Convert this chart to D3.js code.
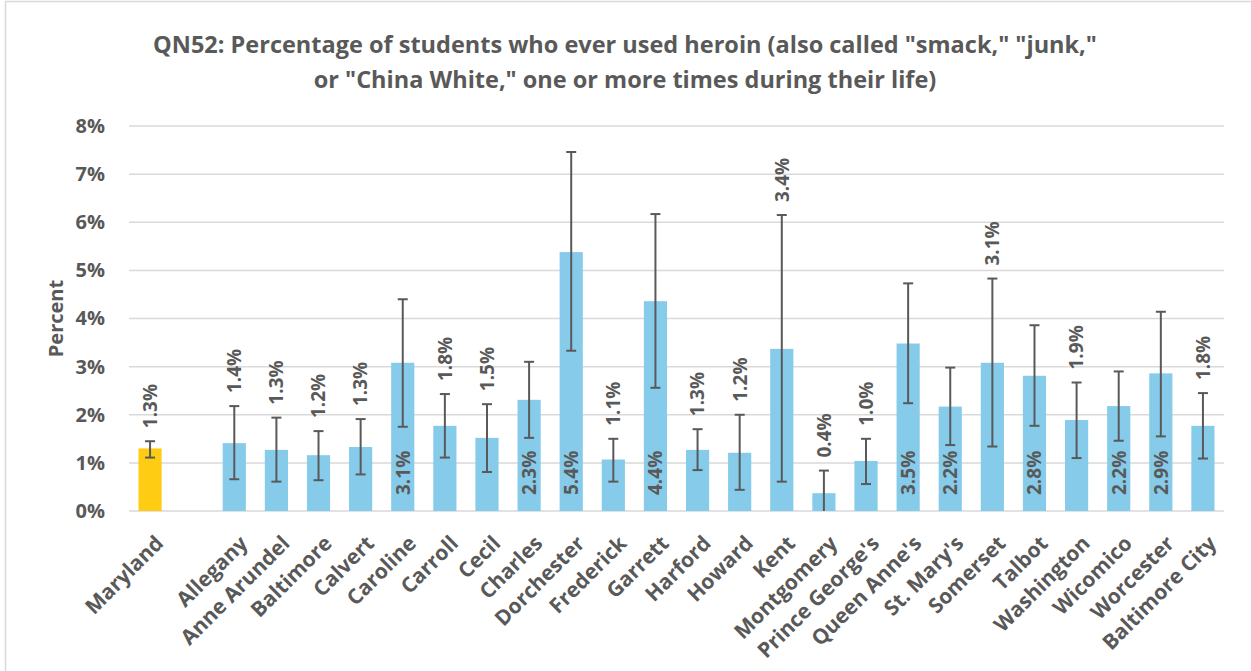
<!DOCTYPE html>
<html>
<head>
<meta charset="utf-8">
<script src="https://cdn.jsdelivr.net/npm/d3@7"></script>
<style>
  body { margin: 0; background: #fff; }
  svg text { font-family: 'Open Sans', sans-serif; font-weight: bold; fill: #595959; }
</style>
</head>
<body>
<svg id="chart" width="1251" height="671"></svg>
<script>
// regions, in the order they appear on the axis
const regions = ['Maryland', 'Allegany', 'Anne Arundel', 'Baltimore', 'Calvert', 'Caroline',
  'Carroll', 'Cecil', 'Charles', 'Dorchester', 'Frederick', 'Garrett', 'Harford', 'Howard',
  'Kent', 'Montgomery', "Prince George's", "Queen Anne's", "St. Mary's", 'Somerset',
  'Talbot', 'Washington', 'Wicomico', 'Worcester', 'Baltimore City'];

// percent of students
const percent = [1.30, 1.41, 1.27, 1.16, 1.33, 3.08, 1.77, 1.52, 2.31, 5.38, 1.07, 4.36,
  1.27, 1.21, 3.37, 0.37, 1.04, 3.48, 2.17, 3.08, 2.81, 1.89, 2.18, 2.86, 1.77];

// 95% confidence interval
const ciLow = [1.11, 0.66, 0.61, 0.64, 0.76, 1.75, 1.11, 0.81, 1.52, 3.33, 0.61, 2.56,
  0.85, 0.44, 0.61, 0.00, 0.56, 2.24, 1.37, 1.34, 1.77, 1.10, 1.46, 1.55, 1.09];
const ciHigh = [1.45, 2.18, 1.94, 1.66, 1.91, 4.40, 2.43, 2.22, 3.10, 7.46, 1.50, 6.17,
  1.70, 2.00, 6.15, 0.84, 1.50, 4.73, 2.98, 4.83, 3.86, 2.67, 2.90, 4.14, 2.45];

// labels that sit inside the bar, at its base
const insideLabels = ['Caroline', 'Charles', 'Dorchester', 'Garrett', "Queen Anne's",
  "St. Mary's", 'Talbot', 'Wicomico', 'Worcester'];

const yTicks = [0, 1, 2, 3, 4, 5, 6, 7, 8];

const titleLines = ['QN52: Percentage of students who ever used heroin (also called "smack," "junk,"',
  'or "China White," one or more times during their life)'];

const stateColor = '#FFCC14';
const countyColor = '#86CBEA';

const svg = d3.select('#chart');

// chart border
svg.append('rect')
    .attr('x', 5.5).attr('y', 1.5)
    .attr('width', 1400).attr('height', 800)
    .attr('fill', 'none')
    .attr('stroke', '#d9d9d9')
    .attr('stroke-width', 1.5);

const plotLeft = 129, plotRight = 1224, plotTop = 126, plotBottom = 511;

// an empty slot between the state and the counties
const slots = [regions[0], '__gap__'].concat(regions.slice(1));

const x = d3.scaleBand()
    .domain(slots)
    .range([plotLeft, plotRight])
    .paddingInner(0.45)
    .paddingOuter(0.225);

const y = d3.scaleLinear()
    .domain([0, 8])
    .range([plotBottom, plotTop]);

const data = regions.map((r, i) => ({
  name: r, value: percent[i], lo: ciLow[i], hi: ciHigh[i], state: i === 0
}));

// title
svg.append('text')
    .attr('x', 625)
    .attr('y', 53)
    .attr('text-anchor', 'middle')
    .style('font-size', '23.5px')
  .selectAll('tspan')
    .data(titleLines)
  .enter().append('tspan')
    .attr('x', 625)
    .attr('dy', (d, i) => i === 0 ? 0 : 35)
    .text(d => d);

// gridlines
svg.append('g')
  .selectAll('line')
    .data(yTicks)
  .enter().append('line')
    .attr('x1', plotLeft).attr('x2', plotRight)
    .attr('y1', d => y(d)).attr('y2', d => y(d))
    .attr('stroke', '#d9d9d9')
    .attr('stroke-width', 1.5);

// y axis labels
const yAxis = svg.append('g')
    .attr('transform', `translate(${plotLeft - 24},0)`)
    .call(d3.axisLeft(y).tickValues(yTicks).tickFormat(d => d + '%').tickSize(0).tickPadding(0));
yAxis.select('.domain').remove();
yAxis.selectAll('text')
    .style('font-size', '20px')
    .attr('fill', '#595959');

svg.append('text')
    .attr('transform', `translate(63,${(plotTop + plotBottom) / 2}) rotate(-90)`)
    .attr('text-anchor', 'middle')
    .style('font-size', '20px')
    .text('Percent');

// bars
svg.append('g')
  .selectAll('rect')
    .data(data)
  .enter().append('rect')
    .attr('x', d => x(d.name))
    .attr('y', d => y(d.value))
    .attr('width', x.bandwidth())
    .attr('height', d => y(0) - y(d.value))
    .attr('fill', d => d.state ? stateColor : countyColor);

// error bars
const cx = d => x(d.name) + x.bandwidth() / 2;
const err = svg.append('g')
    .attr('stroke', '#595959')
    .attr('stroke-width', 2);
err.selectAll('line.stem')
    .data(data)
  .enter().append('line')
    .attr('class', 'stem')
    .attr('x1', cx).attr('x2', cx)
    .attr('y1', d => y(d.lo)).attr('y2', d => y(d.hi));
err.selectAll('line.capHi')
    .data(data)
  .enter().append('line')
    .attr('class', 'capHi')
    .attr('x1', d => cx(d) - 5).attr('x2', d => cx(d) + 5)
    .attr('y1', d => y(d.hi)).attr('y2', d => y(d.hi));
err.selectAll('line.capLo')
    .data(data.filter(d => d.lo > 0))
  .enter().append('line')
    .attr('class', 'capLo')
    .attr('x1', d => cx(d) - 5).attr('x2', d => cx(d) + 5)
    .attr('y1', d => y(d.lo)).attr('y2', d => y(d.lo));

// value labels
svg.append('g')
  .selectAll('text')
    .data(data)
  .enter().append('text')
    .attr('transform', d => {
      const inside = insideLabels.includes(d.name);
      const ty = inside ? y(0) - 16 : y(d.hi) - 13;
      return `translate(${cx(d)},${ty}) rotate(-90)`;
    })
    .attr('text-anchor', 'start')
    .attr('dy', '0.36em')
    .style('font-size', '19px')
    .text(d => d.value.toFixed(1) + '%');

// category labels
svg.append('g')
  .selectAll('text')
    .data(data)
  .enter().append('text')
    .attr('transform', d => `translate(${cx(d) + 4},${plotBottom + 23}) rotate(-45)`)
    .attr('text-anchor', 'end')
    .attr('dy', '0.72em')
    .style('font-size', '21px')
    .text(d => d.name);
</script>
</body>
</html>
